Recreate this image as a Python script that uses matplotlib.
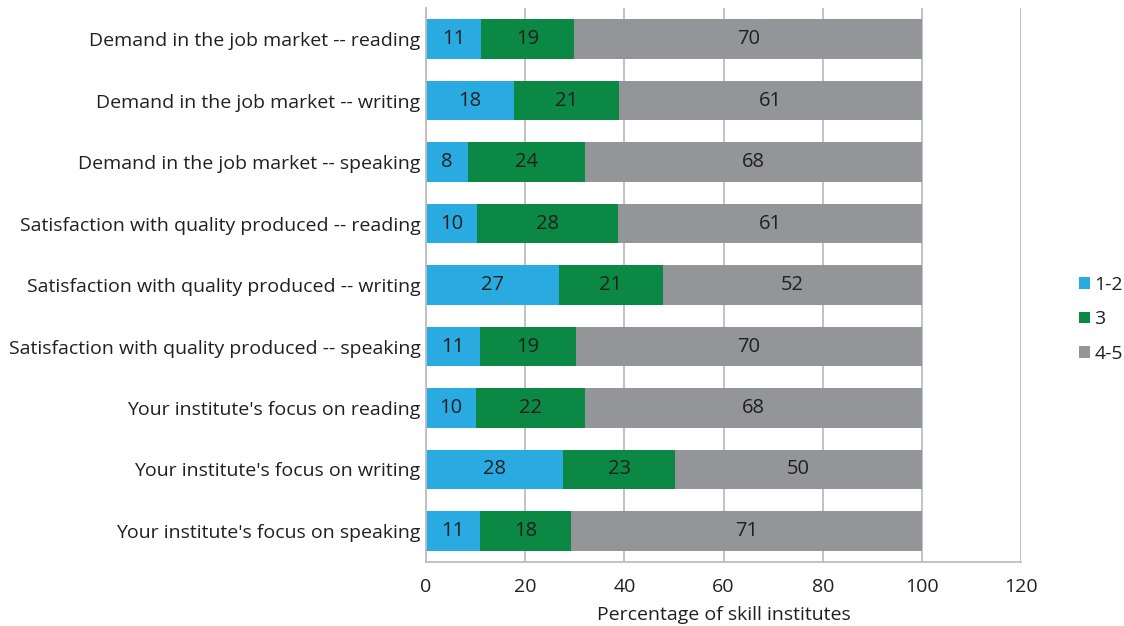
import matplotlib.pyplot as plt
import numpy as np

plt.rcParams['font.family'] = ['Open Sans', 'DejaVu Sans']

# Categories (top to bottom) and the three rating groups
categories = [
    "Demand in the job market -- reading",
    "Demand in the job market -- writing",
    "Demand in the job market -- speaking",
    "Satisfaction with quality produced -- reading",
    "Satisfaction with quality produced -- writing",
    "Satisfaction with quality produced -- speaking",
    "Your institute's focus on reading",
    "Your institute's focus on writing",
    "Your institute's focus on speaking",
]
low = [11.1, 17.8, 8.5, 10.3, 26.8, 10.8, 10.1, 27.7, 10.9]
mid = [18.8, 21.1, 23.5, 28.4, 21.0, 19.4, 21.9, 22.6, 18.4]
high = [70.1, 61.1, 68.0, 61.3, 52.2, 69.8, 68.0, 49.7, 70.7]
low_lbl = [11, 18, 8, 10, 27, 11, 10, 28, 11]
mid_lbl = [19, 21, 24, 28, 21, 19, 22, 23, 18]
high_lbl = [70, 61, 68, 61, 52, 70, 68, 50, 71]
series_names = ['1-2', '3', '4-5']
colors = ['#29abe2', '#0b8843', '#939598']
text_color = '#231f20'
grid_color = '#bdbdbd'

fig = plt.figure(figsize=(11.24, 6.26), dpi=100)
ax = fig.add_axes([0.379, 0.1027, 0.5295, 0.884])

y = np.arange(len(categories))
left = np.zeros(len(categories))
handles = []
for vals, lbls, col, name in zip([low, mid, high], [low_lbl, mid_lbl, high_lbl],
                                 colors, series_names):
    bars = ax.barh(y, vals, left=left, height=0.64, color=col, label=name, zorder=2)
    ax.bar_label(bars, labels=[str(v) for v in lbls], label_type='center',
                 color=text_color, fontsize=14.5)
    handles.append(bars)
    left = left + np.array(vals)

ax.set_ylim(len(categories) - 0.5, -0.5)
ax.set_xlim(0, 120)
ax.set_xticks(range(0, 121, 20))
ax.set_yticks(y)
ax.set_yticklabels(categories)
ax.tick_params(length=0, labelsize=14, colors=text_color)
ax.tick_params(axis='y', pad=4)
ax.tick_params(axis='x', pad=12)
ax.grid(axis='x', color=grid_color, linewidth=1.3, zorder=0)
ax.set_axisbelow(True)
for s in ['top', 'right']:
    ax.spines[s].set_visible(False)
for s in ['left', 'bottom']:
    ax.spines[s].set_color(grid_color)
    ax.spines[s].set_linewidth(1.3)
ax.set_xlabel('Percentage of skill institutes', fontsize=14, color=text_color,
              labelpad=7)

leg = fig.legend(handles=handles, labels=series_names, loc='center left',
                 bbox_to_anchor=(0.953, 0.49), frameon=False, fontsize=14,
                 handlelength=0.55, handleheight=0.55, handletextpad=0.25,
                 labelspacing=0.85, borderaxespad=0)
for t in leg.get_texts():
    t.set_color(text_color)

fig.savefig('out.png', dpi=100)
